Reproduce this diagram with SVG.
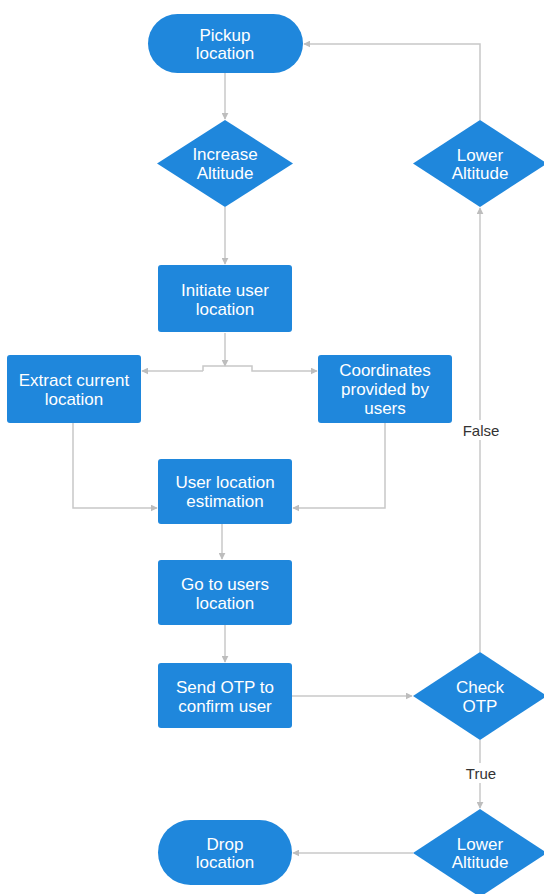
<svg xmlns="http://www.w3.org/2000/svg" width="544" height="894" viewBox="0 0 544 894">
<style>
.n{fill:#1f87dc}
.t{fill:#fff;font-family:"Liberation Sans",Arial,sans-serif;font-size:17px;text-anchor:middle;dominant-baseline:central}
.c{fill:none;stroke:#c8c8c8;stroke-width:1.5}
.l{fill:#333;font-family:"Liberation Sans",Arial,sans-serif;font-size:15px;text-anchor:middle;dominant-baseline:central}
</style>
<defs>
<marker id="a" viewBox="0 0 10 10" refX="9" refY="5" markerWidth="7" markerHeight="7" markerUnits="userSpaceOnUse" orient="auto">
<path d="M0,0 L10,5 L0,10 z" fill="#bdbdbd"/>
</marker>
</defs>
<rect width="544" height="894" fill="#fff"/>
<g id="connectors">
<path class="c" d="M225,73 V119" marker-end="url(#a)"/>
<path class="c" d="M225,207 V264" marker-end="url(#a)"/>
<path class="c" d="M225,333 V366" marker-end="url(#a)"/>
<path class="c" d="M203,371 V366 H252 V371 H317" marker-end="url(#a)"/>
<path class="c" d="M203,371 H142" marker-end="url(#a)"/>
<path class="c" d="M73,423 V508 H157" marker-end="url(#a)"/>
<path class="c" d="M385,423 V508 H293" marker-end="url(#a)"/>
<path class="c" d="M222,524 V559" marker-end="url(#a)"/>
<path class="c" d="M225,625 V662" marker-end="url(#a)"/>
<path class="c" d="M292,696 H412" marker-end="url(#a)"/>
<path class="c" d="M480,652 V208" marker-end="url(#a)"/>
<path class="c" d="M480,120 V44 H304" marker-end="url(#a)"/>
<path class="c" d="M480,740 V808" marker-end="url(#a)"/>
<path class="c" d="M413,853 H293" marker-end="url(#a)"/>
<rect x="460" y="420" width="42" height="20" fill="#fff"/>
<text class="l" x="481" y="430">False</text>
<rect x="462" y="763" width="38" height="20" fill="#fff"/>
<text class="l" x="481" y="773">True</text>
</g>
<g id="pickup">
<rect class="n" x="148" y="14" width="155" height="59" rx="29.5"/>
<text class="t" x="225" y="35">Pickup</text>
<text class="t" x="225" y="53">location</text>
</g>
<g id="increase">
<path class="n" d="M225,120 L293,163.5 L225,207 L157,163.5 z"/>
<text class="t" x="225" y="154">Increase</text>
<text class="t" x="225" y="173">Altitude</text>
</g>
<g id="initiate">
<rect class="n" x="158" y="265" width="134" height="67" rx="3"/>
<text class="t" x="225" y="290">Initiate user</text>
<text class="t" x="225" y="309">location</text>
</g>
<g id="extract">
<rect class="n" x="7" y="355" width="134" height="68" rx="3"/>
<text class="t" x="74" y="380">Extract current</text>
<text class="t" x="74" y="399">location</text>
</g>
<g id="coords">
<rect class="n" x="318" y="355" width="134" height="68" rx="3"/>
<text class="t" x="385" y="370">Coordinates</text>
<text class="t" x="385" y="389">provided by</text>
<text class="t" x="385" y="408">users</text>
</g>
<g id="estimation">
<rect class="n" x="158" y="459" width="134" height="65" rx="3"/>
<text class="t" x="225" y="482">User location</text>
<text class="t" x="225" y="501">estimation</text>
</g>
<g id="goto">
<rect class="n" x="158" y="560" width="134" height="65" rx="3"/>
<text class="t" x="225" y="584">Go to users</text>
<text class="t" x="225" y="603">location</text>
</g>
<g id="sendotp">
<rect class="n" x="158" y="663" width="134" height="65" rx="3"/>
<text class="t" x="225" y="687">Send OTP to</text>
<text class="t" x="225" y="706">confirm user</text>
</g>
<g id="checkotp">
<path class="n" d="M480,652 L547,696 L480,740 L413,696 z"/>
<text class="t" x="480" y="687">Check</text>
<text class="t" x="480" y="706">OTP</text>
</g>
<g id="lower1">
<path class="n" d="M480,120 L547,163.5 L480,207 L413,163.5 z"/>
<text class="t" x="480" y="155">Lower</text>
<text class="t" x="480" y="173">Altitude</text>
</g>
<g id="lower2">
<path class="n" d="M480,809 L547,853 L480,897 L413,853 z"/>
<text class="t" x="480" y="844">Lower</text>
<text class="t" x="480" y="862">Altitude</text>
</g>
<g id="drop">
<rect class="n" x="158" y="820" width="134" height="65" rx="32.5"/>
<text class="t" x="225" y="844">Drop</text>
<text class="t" x="225" y="862">location</text>
</g>
</svg>
